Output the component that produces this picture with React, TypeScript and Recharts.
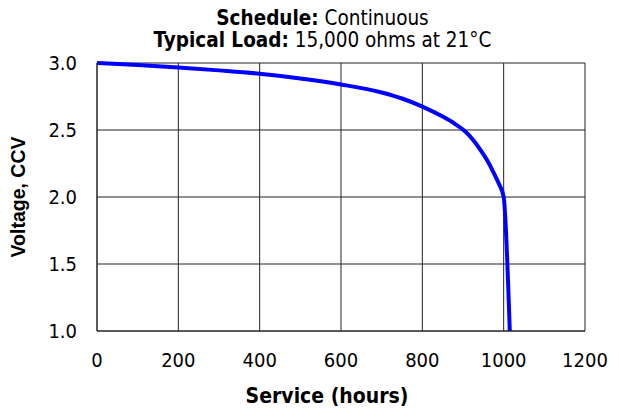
import { LineChart, Line, XAxis, YAxis, CartesianGrid, Label } from "recharts";

const hours = [0, 100, 200, 300, 400, 500, 600, 700, 750, 800, 850, 880, 905, 925, 942, 960, 974, 988, 1000, 1015];
const voltage = [3.0, 2.985, 2.967, 2.945, 2.92, 2.885, 2.84, 2.78, 2.735, 2.675, 2.6, 2.546, 2.49, 2.425, 2.355, 2.27, 2.19, 2.1, 2.0, 1.0];
const xTicks = [0, 200, 400, 600, 800, 1000, 1200];
const yTicks = [1.0, 1.5, 2.0, 2.5, 3.0];

const data = hours.map((h, i) => ({ h, v: voltage[i] }));

const tickFont = "'DejaVu Sans Condensed', 'DejaVu Sans', sans-serif";

export default function App() {
  return (
    <div style={{ position: "absolute", left: 0, top: 0, width: 619, height: 408, background: "#fff" }}>
      <div
        style={{
          position: "absolute",
          left: 0,
          top: 7,
          width: 645,
          textAlign: "center",
          fontFamily: tickFont,
          fontSize: 20.5,
          lineHeight: "22px",
          color: "#000",
        }}
      >
        <div>
          <b>Schedule:</b> Continuous
        </div>
        <div>
          <b>Typical Load:</b> 15,000 ohms at 21°C
        </div>
      </div>
      <LineChart width={619} height={408} data={data} margin={{ top: 63, right: 34, left: 0, bottom: 0 }}>
        <CartesianGrid stroke="#222" strokeWidth={1} />
        <XAxis
          dataKey="h"
          type="number"
          domain={[0, 1200]}
          ticks={xTicks}
          height={77}
          axisLine={{ stroke: "#222" }}
          tickLine={false}
          tickSize={0}
          tickMargin={22}
          tick={{ fill: "#000", fontSize: 20, fontFamily: tickFont }}
        >
          <Label
            value="Service (hours)"
            position="insideBottom"
            offset={5}
            dx={-14}
            style={{ fill: "#000", fontSize: 21, fontWeight: "bold", fontFamily: tickFont }}
          />
        </XAxis>
        <YAxis
          type="number"
          domain={[1, 3]}
          ticks={yTicks}
          width={97}
          axisLine={{ stroke: "#222" }}
          tickLine={false}
          tickSize={0}
          tickMargin={20}
          tickFormatter={(v: number) => v.toFixed(1)}
          tick={{ fill: "#000", fontSize: 20, fontFamily: tickFont }}
        >
          <Label
            value="Voltage, CCV"
            angle={-90}
            position="insideLeft"
            offset={18}
            dy={0}
            style={{
              fill: "#000",
              fontSize: 19.5,
              fontWeight: "bold",
              fontFamily: "'Liberation Sans', Arial, sans-serif",
              textAnchor: "middle",
            }}
          />
        </YAxis>
        <Line
          type="monotone"
          dataKey="v"
          stroke="#0000ff"
          strokeWidth={4}
          dot={false}
          isAnimationActive={false}
        />
      </LineChart>
    </div>
  );
}
